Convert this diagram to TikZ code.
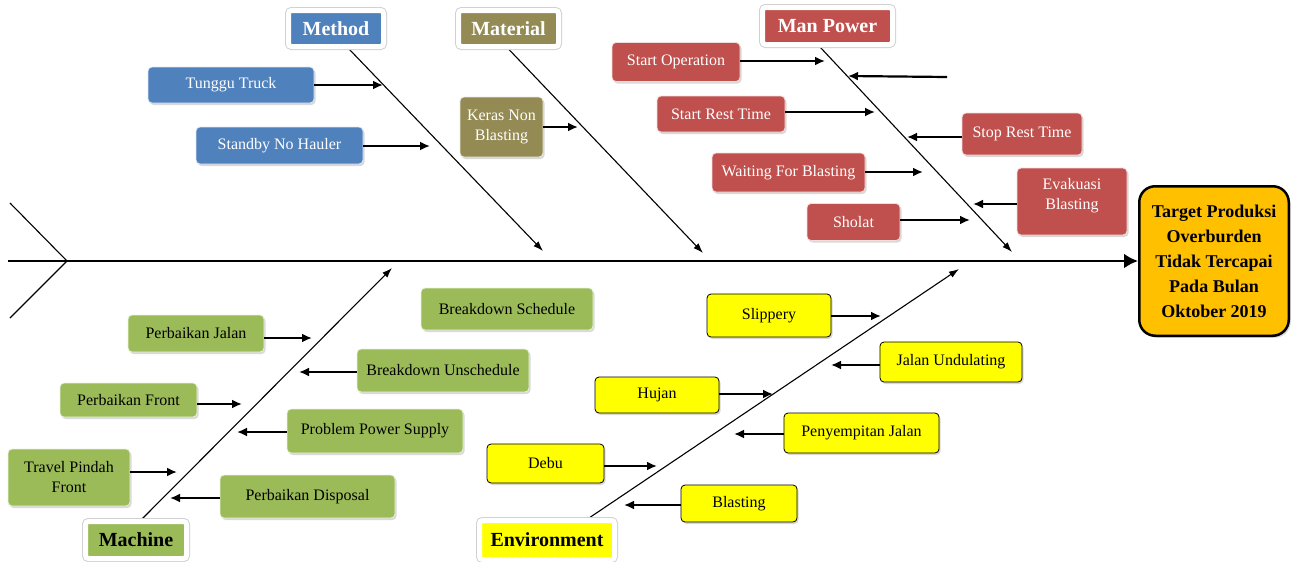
\documentclass[tikz,border=0pt]{standalone}
\usepackage{fontspec}
\setmainfont{Liberation Serif}
\usetikzlibrary{arrows.meta,shadows,backgrounds}

\definecolor{methodblue}{HTML}{4F81BD}
\definecolor{materialolive}{HTML}{948A54}
\definecolor{manred}{HTML}{C0504D}
\definecolor{machinegreen}{HTML}{9BBB59}
\definecolor{envyellow}{HTML}{FFFF00}
\definecolor{targetorange}{HTML}{FFC000}

\tikzset{
  cause/.style={rounded corners=4pt, align=center, inner sep=2pt,
    font=\fontsize{16}{20}\selectfont,
    drop shadow={opacity=0.3, shadow xshift=1.5pt, shadow yshift=-2pt}},
  bluebox/.style={cause, fill=methodblue, draw=white!80!methodblue, line width=0.8pt, text=white},
  olivebox/.style={cause, fill=materialolive, draw=white!80!materialolive, line width=0.8pt, text=white},
  redbox/.style={cause, fill=manred, draw=white!80!manred, line width=0.8pt, text=white},
  greenbox/.style={cause, fill=machinegreen, draw=white!80!machinegreen, line width=0.8pt, text=black},
  yellowbox/.style={cause, fill=envyellow, draw=black, line width=0.8pt, text=black},
  category/.style={preaction={draw=black!18, line width=7pt}, draw=white, line width=5pt,
    rounded corners=3pt, inner sep=2pt, font=\bfseries\fontsize{20}{24}\selectfont},
  causearr/.style={-{Latex[length=10pt,width=9pt]}, line width=2.2pt},
  bone/.style={-{Latex[length=10pt,width=7pt]}, line width=1.1pt},
}

\begin{document}
\begin{tikzpicture}[x=1pt,y=-1pt]
\useasboundingbox (0,0) rectangle (1296,562);

% categories
\node[category, fill=methodblue, text=white, minimum width=95pt, minimum height=36pt] (method) at (336,28.5) {Method};
\node[category, fill=materialolive, text=white, minimum width=100pt, minimum height=36pt] (material) at (508.5,28.5) {Material};
\node[category, fill=manred, text=white, minimum width=130pt, minimum height=37pt] (manpower) at (827.5,26) {Man Power};
\node[category, fill=machinegreen, minimum width=101pt, minimum height=37pt] (machine) at (136,540) {Machine};
\node[category, fill=envyellow, minimum width=135pt, minimum height=39pt] (environment) at (547,540) {Environment};

\node[fill=targetorange, draw=black, line width=2.5pt, rounded corners=16pt, align=center,
  minimum width=149.5pt, minimum height=149.5pt, inner sep=0pt,
  font=\bfseries\fontsize{18}{25}\selectfont,
  drop shadow={opacity=0.3, shadow xshift=2pt, shadow yshift=-2pt}] (target) at (1214,261)
  {Target Produksi\\Overburden\\Tidak Tercapai\\Pada Bulan\\Oktober 2019};

% method
\node[bluebox, minimum width=166pt, minimum height=36pt] (tunggu) at (231,85) {Tunggu Truck};
\node[bluebox, minimum width=167pt, minimum height=37pt] (standby) at (279.5,145.5) {Standby No Hauler};

% material
\node[olivebox, minimum width=83pt, minimum height=60pt] (keras) at (501.5,127) {Keras Non\\Blasting};

% man power
\node[redbox, minimum width=128pt, minimum height=39pt] (startop) at (676,62) {Start Operation};
\node[redbox, minimum width=128pt, minimum height=36pt] (startrest) at (721,114) {Start Rest Time};
\node[redbox, minimum width=153pt, minimum height=39pt] (waiting) at (788.5,172.5) {Waiting For Blasting};
\node[redbox, minimum width=93pt, minimum height=37pt] (sholat) at (853.5,222) {Sholat};
\node[redbox, minimum width=120pt, minimum height=42pt] (stoprest) at (1022,134) {Stop Rest Time};
\node[redbox, minimum width=110pt, minimum height=67pt] (evakuasi) at (1072,201.5) {Evakuasi\\Blasting\\[-4pt]};

% machine
\node[greenbox, minimum width=136pt, minimum height=37pt] (perbjalan) at (196,333.5) {Perbaikan Jalan};
\node[greenbox, minimum width=172pt, minimum height=42pt] (bdsched) at (507,309) {Breakdown Schedule};
\node[greenbox, minimum width=172pt, minimum height=43pt] (bdunsched) at (443,370.5) {Breakdown Unschedule};
\node[greenbox, minimum width=137pt, minimum height=34pt] (perbfront) at (128.5,400) {Perbaikan Front};
\node[greenbox, minimum width=176pt, minimum height=44pt] (powersupply) at (375,431) {Problem Power Supply};
\node[greenbox, minimum width=122pt, minimum height=57pt] (travel) at (69,477.5) {Travel Pindah\\Front};
\node[greenbox, minimum width=175pt, minimum height=43pt] (disposal) at (307.5,496.5) {Perbaikan Disposal};

% environment
\node[yellowbox, minimum width=124pt, minimum height=43pt] (slippery) at (769,315.5) {Slippery};
\node[yellowbox, minimum width=142pt, minimum height=40pt] (undulating) at (951,362) {Jalan Undulating};
\node[yellowbox, minimum width=124pt, minimum height=36pt] (hujan) at (657,395) {Hujan};
\node[yellowbox, minimum width=155pt, minimum height=40pt] (penyempitan) at (861.5,433) {Penyempitan Jalan};
\node[yellowbox, minimum width=117pt, minimum height=39pt] (debu) at (545.5,463.5) {Debu};
\node[yellowbox, minimum width=116pt, minimum height=37pt] (blasting) at (739,503.5) {Blasting};

% bones and spine
\coordinate (tailtop) at (10,203);
\coordinate (tailbot) at (10,318);
\coordinate (tail) at (67,261);
\coordinate (spinestart) at (8,261);
\coordinate (methodend) at (543,251);
\coordinate (materialend) at (703,253);
\coordinate (manpowerend) at (1012,252);
\coordinate (machineend) at (392,268);
\coordinate (environmentend) at (959,269);

\begin{pgfonlayer}{background}
\draw[line width=1.1pt] (tailtop) -- (tail) -- (tailbot);
\draw[line width=2.6pt, -{Latex[length=14pt,width=15pt]}] (spinestart) -- (target.west);
\draw[bone] ([xshift=13pt]method.south) -- (methodend);
\draw[bone] (material.south) -- (materialend);
\draw[bone] ([xshift=-7.5pt]manpower.south) -- (manpowerend);
\draw[bone] ([xshift=6pt]machine.north) -- (machineend);
\draw[bone] ([xshift=42pt]environment.north) -- (environmentend);
\end{pgfonlayer}

% cause arrows
\coordinate (tunggutip) at (383,85);
\coordinate (standbytip) at (430,146);
\coordinate (kerastip) at (578,127);
\coordinate (startoptip) at (825,61);
\coordinate (startresttip) at (875,112);
\coordinate (waitingtip) at (923,172);
\coordinate (sholattip) at (970,220);
\coordinate (stopresttip) at (907,137);
\coordinate (evakuasitip) at (973,204);
\coordinate (freestart) at (947,77);
\coordinate (freetip) at (848,76);
\coordinate (perbjalantip) at (312,338);
\coordinate (bdunschedtip) at (299,372);
\coordinate (perbfronttip) at (242,404);
\coordinate (powersupplytip) at (237,432);
\coordinate (traveltip) at (177,472);
\coordinate (disposaltip) at (170,498);
\coordinate (slipperytip) at (881,316);
\coordinate (undulatingtip) at (831,365);
\coordinate (hujantip) at (773,394);
\coordinate (penyempitantip) at (734,434);
\coordinate (debutip) at (657,466);
\coordinate (blastingtip) at (624,505);

\draw[causearr] (tunggu.east |- tunggutip) -- (tunggutip);
\draw[causearr] (standby.east |- standbytip) -- (standbytip);
\draw[causearr] (keras.east |- kerastip) -- (kerastip);
\draw[causearr] (startop.east |- startoptip) -- (startoptip);
\draw[causearr] (startrest.east |- startresttip) -- (startresttip);
\draw[causearr] (waiting.east |- waitingtip) -- (waitingtip);
\draw[causearr] (sholat.east |- sholattip) -- (sholattip);
\draw[causearr] (stoprest.west |- stopresttip) -- (stopresttip);
\draw[causearr] (evakuasi.west |- evakuasitip) -- (evakuasitip);
\draw[causearr] (freestart) -- (freetip);
\draw[causearr] (perbjalan.east |- perbjalantip) -- (perbjalantip);
\draw[causearr] (bdunsched.west |- bdunschedtip) -- (bdunschedtip);
\draw[causearr] (perbfront.east |- perbfronttip) -- (perbfronttip);
\draw[causearr] (powersupply.west |- powersupplytip) -- (powersupplytip);
\draw[causearr] (travel.east |- traveltip) -- (traveltip);
\draw[causearr] (disposal.west |- disposaltip) -- (disposaltip);
\draw[causearr] (slippery.east |- slipperytip) -- (slipperytip);
\draw[causearr] (undulating.west |- undulatingtip) -- (undulatingtip);
\draw[causearr] (hujan.east |- hujantip) -- (hujantip);
\draw[causearr] (penyempitan.west |- penyempitantip) -- (penyempitantip);
\draw[causearr] (debu.east |- debutip) -- (debutip);
\draw[causearr] (blasting.west |- blastingtip) -- (blastingtip);

\end{tikzpicture}
\end{document}
